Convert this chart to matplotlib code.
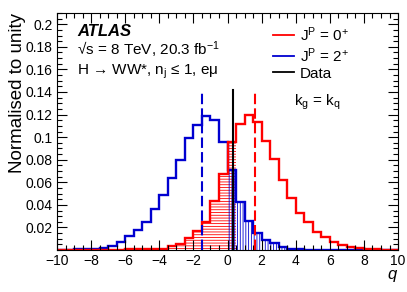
import numpy as np
import matplotlib
matplotlib.use("Agg")
import matplotlib.pyplot as plt
from matplotlib.ticker import MultipleLocator, FixedLocator
from matplotlib.lines import Line2D

plt.rcParams['font.family'] = ['Liberation Sans', 'DejaVu Sans']
plt.rcParams['mathtext.fontset'] = 'custom'
plt.rcParams['mathtext.rm'] = 'Liberation Sans'
plt.rcParams['mathtext.it'] = 'Liberation Sans:italic'
plt.rcParams['mathtext.bf'] = 'Liberation Sans:bold'
plt.rcParams['hatch.linewidth'] = 0.6

# bin edges of the q distributions
edges = np.arange(-10, 10.01, 0.5)

# J^P = 2+ pseudo-experiments
spin2 = [0.0002, 0.0003, 0.0005, 0.0009, 0.0013, 0.0022, 0.0034, 0.0069, 0.0123, 0.018,
         0.025, 0.036, 0.049, 0.0635, 0.080, 0.099, 0.1107, 0.119, 0.1154, 0.0955,
         0.071, 0.0425, 0.0256, 0.0147, 0.009, 0.0058, 0.0025, 0.0013, 0.0006, 0.0003,
         0.0002, 0.0001, 0.0001, 0, 0, 0, 0, 0, 0, 0]
# J^P = 0+ pseudo-experiments
spin0 = [0, 0, 0, 0, 0.0001, 0.0001, 0.0002, 0.0003, 0.0005, 0.0006,
         0.0007, 0.0008, 0.0013, 0.0034, 0.0055, 0.0102, 0.0172, 0.025, 0.043, 0.067,
         0.0958, 0.1116, 0.1200, 0.113, 0.0967, 0.081, 0.062, 0.0458, 0.0324, 0.025,
         0.0162, 0.0117, 0.0069, 0.0046, 0.0028, 0.0016, 0.001, 0.0007, 0.0004, 0.0003]

mean_0p = 1.6
mean_2p = -1.5
q_data = 0.3
line_top = 0.142

xticks = [-10, -8, -6, -4, -2, 0, 2, 4, 6, 8, 10]
xticklabels = ['\u221210', '\u22128', '\u22126', '\u22124', '\u22122', '0', '2', '4', '6', '8', '10']
yticks = [0.02, 0.04, 0.06, 0.08, 0.1, 0.12, 0.14, 0.16, 0.18, 0.2]
yticklabels = ['0.02', '0.04', '0.06', '0.08', '0.1', '0.12', '0.14', '0.16', '0.18', '0.2']

red = '#ff0000'
blue = '#0000d0'

fig = plt.figure(figsize=(4.07, 2.92), dpi=100)
ax = fig.add_axes([0.140, 0.1438, 0.838, 0.8117])

spin0 = np.array(spin0)
spin2 = np.array(spin2)
centers = edges[:-1] + 0.25

# hatched tails: 0+ below the data, 2+ above the data
m0 = edges[:-1] < 0.5
m2 = edges[:-1] >= 0.0
ax.bar(centers[m0], spin0[m0], width=0.5, facecolor='none', edgecolor=red,
       hatch='------', linewidth=0)
ax.bar(centers[m2], spin2[m2], width=0.5, facecolor='none', edgecolor=blue,
       hatch='||||||', linewidth=0)

ax.stairs(spin2, edges, color=blue, lw=1.7)
ax.stairs(spin0, edges, color=red, lw=1.7)

ax.plot([mean_2p, mean_2p], [0, line_top], color=blue, lw=1.5, ls=(0, (5, 2)))
ax.plot([mean_0p, mean_0p], [0, line_top], color=red, lw=1.5, ls=(0, (5, 2)))
ax.plot([q_data, q_data], [0, line_top], color='black', lw=1.5)

ax.set_xlim(-10, 10)
ax.set_ylim(0, 0.21)
ax.xaxis.set_major_locator(FixedLocator(xticks))
ax.xaxis.set_minor_locator(MultipleLocator(0.5))
ax.yaxis.set_major_locator(FixedLocator(yticks))
ax.yaxis.set_minor_locator(MultipleLocator(0.005))
ax.set_yticklabels(yticklabels)
ax.set_xticklabels(xticklabels)
ax.tick_params(which='both', direction='in', top=True, right=True, labelsize=10, width=0.8)
ax.tick_params(which='major', length=7, pad=3)
ax.tick_params(which='minor', length=3.5)
for s in ax.spines.values():
    s.set_linewidth(0.8)

ax.set_ylabel('Normalised to unity', fontsize=13.5, loc='top', labelpad=0)
ax.set_xlabel('$\\it{q}$', fontsize=12, loc='right', labelpad=0)

ax.text(0.06, 0.905, 'ATLAS', transform=ax.transAxes, fontsize=12,
        fontweight='bold', fontstyle='italic')
ax.text(0.06, 0.82, '\u221As = 8 TeV, 20.3 fb$^{\\mathregular{-1}}$', transform=ax.transAxes, fontsize=11)
ax.text(0.06, 0.74, 'H \u2192 WW*, n$_{\\mathregular{j}}$ \u2264 1, e\u03bc',
        transform=ax.transAxes, fontsize=11)

handles = [Line2D([], [], color=red, lw=1.3),
           Line2D([], [], color=blue, lw=1.3),
           Line2D([], [], color='black', lw=1.3)]
labels = ['J$^{\\mathregular{P}}$ = 0$^{\\mathregular{+}}$',
          'J$^{\\mathregular{P}}$ = 2$^{\\mathregular{+}}$', 'Data']
ax.legend(handles, labels, loc='upper left', bbox_to_anchor=(0.615, 0.975), frameon=False,
          fontsize=11, handlelength=1.4, handletextpad=0.35, labelspacing=0.15,
          borderaxespad=0)
ax.text(0.695, 0.61, 'k$_{\\mathregular{g}}$ = k$_{\\mathregular{q}}$', transform=ax.transAxes, fontsize=11)

fig.savefig('out.png', dpi=100)
